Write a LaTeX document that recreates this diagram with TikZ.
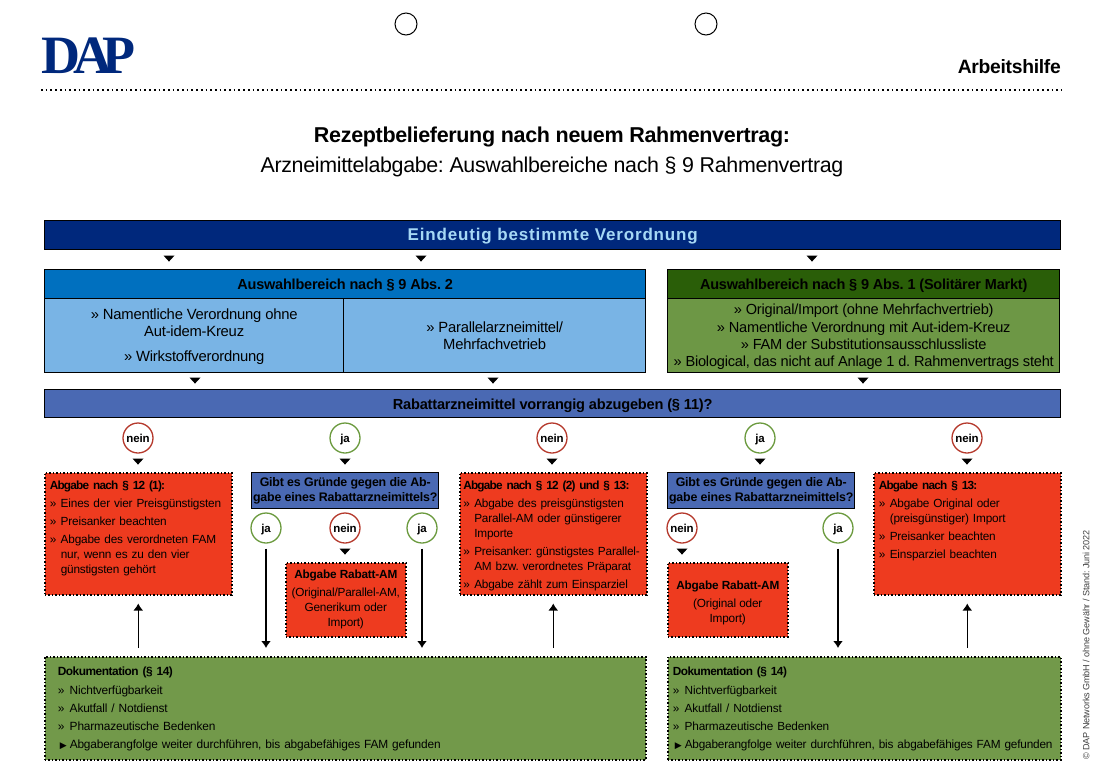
\documentclass[tikz,border=0pt]{standalone}
\usepackage{fontspec}
\usepackage{xcolor}
\usepackage{tikz}
\usetikzlibrary{arrows.meta,shapes.geometric}
\setmainfont[LetterSpace=-1.5]{Liberation Sans}
\newfontfamily\logofont{Liberation Serif}
\newfontfamily\symfont{DejaVu Sans}
\frenchspacing
\definecolor{navy}{HTML}{00287C}
\definecolor{navytext}{HTML}{A6D8F5}
\definecolor{headblue}{HTML}{0070BF}
\definecolor{softblue}{HTML}{79B4E5}
\definecolor{headgreen}{HTML}{2A5E08}
\definecolor{softgreen}{HTML}{6D9745}
\definecolor{docgreen}{HTML}{72994A}
\definecolor{barblue}{HTML}{4A69B3}
\definecolor{redfill}{HTML}{EE3B1F}
\definecolor{neinred}{HTML}{B5392C}
\definecolor{jagreen}{HTML}{6B9A3E}
\newcommand{\kopf}[1]{{\bfseries\addfontfeature{LetterSpace=-6.5}#1}}
\newcommand{\bul}{\par\vspace{3pt}\hangindent=11pt\hangafter=1\makebox[11pt][l]{»}}
\newcommand{\dokbul}{\par\hangindent=12pt\hangafter=1\makebox[12pt][l]{»}}
\newcommand{\doktext}{{\bfseries\addfontfeature{LetterSpace=-4}Dokumentation (§ 14)}\dokbul Nichtverfügbarkeit\dokbul Akutfall / Notdienst\dokbul Pharmazeutische Bedenken\par\makebox[12pt][l]{\hspace{2pt}\symfont\fontsize{9}{9}\selectfont ▶}Abgaberangfolge weiter durchführen, bis abgabefähiges FAM gefunden\par}
\begin{document}
\begin{tikzpicture}[x=1pt,y=-1pt,>={Latex[width=10pt,length=7pt]},
every node/.style={font=\fontsize{11.8}{15}\selectfont},
bar/.style={draw=black,line width=1.4pt,anchor=north west,inner sep=0pt,align=center},
onebar/.style={bar,text height=11pt,text depth=0pt},
dots/.style={draw=black,line width=1.5pt,dash pattern=on 1.5pt off 2pt},
redbox/.style={dots,fill=redfill,anchor=north west,inner xsep=5pt,inner ysep=0pt,align=left,text width=177pt,text height=17pt,text depth=105pt},
rabattbox/.style={dots,fill=redfill,anchor=north west,inner sep=0pt,align=center,minimum width=120pt,minimum height=74pt},
dokbox/.style={dots,fill=docgreen,anchor=north west,inner ysep=0pt,align=left,text height=19pt,text depth=84pt,font=\fontsize{11.9}{18.3}\selectfont},
frage/.style={bar,fill=barblue,minimum width=187pt,minimum height=36pt,font=\bfseries\fontsize{12.4}{14.5}\selectfont},
nein/.style={circle,draw=neinred,line width=1.3pt,fill=white,minimum size=30pt,inner sep=0pt,text height=8.5pt,text depth=0pt,font=\bfseries\fontsize{11.5}{12}\selectfont},
ja/.style={nein,draw=jagreen},
tipdown/.style={isosceles triangle,isosceles triangle stretches,shape border rotate=-90,fill=black,inner sep=0pt,minimum width=11pt,minimum height=6pt},
long/.style={->,line width=1.4pt}]
\useasboundingbox (0,0) rectangle (1100,772);
\node[circle,draw=black,line width=1pt,minimum size=22pt] (hole1) at (406,24) {};
\node[circle,draw=black,line width=1pt,minimum size=22pt] (hole2) at (706,24) {};
\node[anchor=north west,inner sep=0pt,text=navy,font=\logofont\bfseries\fontsize{54}{54}\selectfont] (logo) at (41,38) {D\kern-.13em A\kern-.17em P};
\node[anchor=east,inner sep=0pt,font=\bfseries\fontsize{19.3}{20}\selectfont] (arbeit) at (1061,67) {Arbeitshilfe};
\coordinate (ruleL) at (41,90);
\coordinate (ruleR) at (1062,90);
\draw[line width=1.7pt,dash pattern=on 1.7pt off 3pt] (ruleL)--(ruleR);
\node[font=\bfseries\fontsize{21.5}{24}\selectfont] (titel) at (552,136.5) {Rezeptbelieferung nach neuem Rahmenvertrag:};
\node[font=\fontsize{21.4}{24}\selectfont] (untertitel) at (552,166.5) {Arzneimittelabgabe: Auswahlbereiche nach § 9 Rahmenvertrag};
\node[onebar,fill=navy,minimum width=1016pt,minimum height=29pt,text=navytext,font=\bfseries\fontsize{17}{18}\selectfont\addfontfeature{LetterSpace=5}] (verordnung) at (44,220) {Eindeutig bestimmte Verordnung};
\node[tipdown] (t1) at (169,258) {};
\node[tipdown] (t2) at (421,258) {};
\node[tipdown] (t3) at (812,258) {};
\node[onebar,fill=headblue,minimum width=601pt,minimum height=29pt,font=\bfseries\fontsize{14.5}{16}\selectfont] (abs2) at (44,269) {Auswahlbereich nach § 9 Abs. 2};
\node[bar,fill=softblue,minimum width=299pt,minimum height=74pt,font=\fontsize{14.8}{17}\selectfont] (abs2a) at (44,298) {\rule{0pt}{13pt}» Namentliche Verordnung ohne\\Aut-idem-Kreuz\\[8pt]» Wirkstoffverordnung};
\node[bar,fill=softblue,minimum width=302pt,minimum height=74pt,font=\fontsize{14.8}{17}\selectfont] (abs2b) at (343,298) {» Parallelarzneimittel/\\Mehrfachvetrieb};
\node[onebar,fill=headgreen,minimum width=392pt,minimum height=29pt,font=\bfseries\fontsize{14.5}{16}\selectfont] (abs1) at (667,269) {Auswahlbereich nach § 9 Abs. 1 (Solitärer Markt)};
\node[bar,fill=softgreen,minimum width=392pt,minimum height=74pt,font=\fontsize{14.6}{17.3}\selectfont] (abs1a) at (667,298) {\rule{0pt}{13pt}» Original/Import (ohne Mehrfachvertrieb)\\» Namentliche Verordnung mit Aut-idem-Kreuz\\» FAM der Substitutionsausschlussliste\\» Biological, das nicht auf Anlage 1 d. Rahmenvertrags steht};
\node[tipdown] (t4) at (195,380) {};
\node[tipdown] (t5) at (493,380) {};
\node[tipdown] (t6) at (863,380) {};
\node[onebar,fill=barblue,minimum width=1016pt,minimum height=28pt,font=\bfseries\fontsize{14.6}{16}\selectfont] (rabatt) at (44,389) {Rabattarzneimittel vorrangig abzugeben (§ 11)?};
\node[nein] (n1) at (138,438) {nein};
\node[ja] (j1) at (345,438) {ja};
\node[nein] (n2) at (552,438) {nein};
\node[ja] (j2) at (760,438) {ja};
\node[nein] (n3) at (967,438) {nein};
\node[tipdown] (t7) at (138,461) {};
\node[tipdown] (t8) at (345,461) {};
\node[tipdown] (t9) at (552,461) {};
\node[tipdown] (t10) at (760,461) {};
\node[tipdown] (t11) at (967,461) {};
\node[redbox] (a1) at (44,472) {\kopf{Abgabe nach § 12 (1):}\bul Eines der vier Preisgünstigsten\bul Preisanker beachten\bul Abgabe des verordneten FAM\newline nur, wenn es zu den vier\newline günstigsten gehört\par};
\node[frage] (f1) at (251,472) {Gibt es Gründe gegen die Ab-\\gabe eines Rabattarzneimittels?};
\node[ja] (j3) at (266,528) {ja};
\node[nein] (n4) at (345,528) {nein};
\node[ja] (j4) at (422,528) {ja};
\node[tipdown] (t12) at (345,551) {};
\node[rabattbox] (r1) at (285,562) {\textbf{Abgabe Rabatt-AM}\\[3pt](Original/Parallel-AM,\\Generikum oder\\Import)};
\node[redbox,inner xsep=3.5pt,text width=180pt] (a2) at (459,472) {\kopf{Abgabe nach § 12 (2) und § 13:}\bul Abgabe des preisgünstigsten\newline Parallel-AM oder günstigerer\newline Importe\bul Preisanker: günstigstes Parallel-\newline AM bzw. verordnetes Präparat\bul Abgabe zählt zum Einsparziel\par};
\node[frage] (f2) at (667,472) {Gibt es Gründe gegen die Ab-\\gabe eines Rabattarzneimittels?};
\node[nein] (n5) at (682,528) {nein};
\node[ja] (j5) at (838,528) {ja};
\node[tipdown] (t13) at (682,551) {};
\node[rabattbox] (r2) at (667,562) {\rule{0pt}{15pt}\textbf{Abgabe Rabatt-AM}\\[3pt](Original oder\\Import)};
\node[redbox] (a3) at (873,472) {\kopf{Abgabe nach § 13:}\bul Abgabe Original oder\newline (preisgünstiger) Import\bul Preisanker beachten\bul Einsparziel beachten\par};
\node[dokbox,inner xsep=13pt,text width=575pt] (d1) at (44,656) {\doktext};
\node[dokbox,inner xsep=5pt,text width=383pt,font=\fontsize{11.8}{18.3}\selectfont] (d2) at (667,656) {\doktext};
\draw[long,shorten <=8pt,shorten >=8pt] (d1.north -| a1.south)--(a1.south);
\draw[long,shorten <=8pt,shorten >=8pt] (d1.north -| a2.south)--(a2.south);
\draw[long,shorten <=8pt,shorten >=8pt] (d2.north -| a3.south)--(a3.south);
\draw[long,shorten <=5pt,shorten >=8pt] (j3.south)--(j3.south |- d1.north);
\draw[long,shorten <=5pt,shorten >=8pt] (j4.south)--(j4.south |- d1.north);
\draw[long,shorten <=5pt,shorten >=8pt] (j5.south)--(j5.south |- d2.north);
\node[rotate=90,font=\fontsize{9.1}{10}\selectfont,text=black!75] (stand) at (1086,645) {© DAP Networks GmbH / ohne Gewähr / Stand: Juni 2022};
\end{tikzpicture}
\end{document}
